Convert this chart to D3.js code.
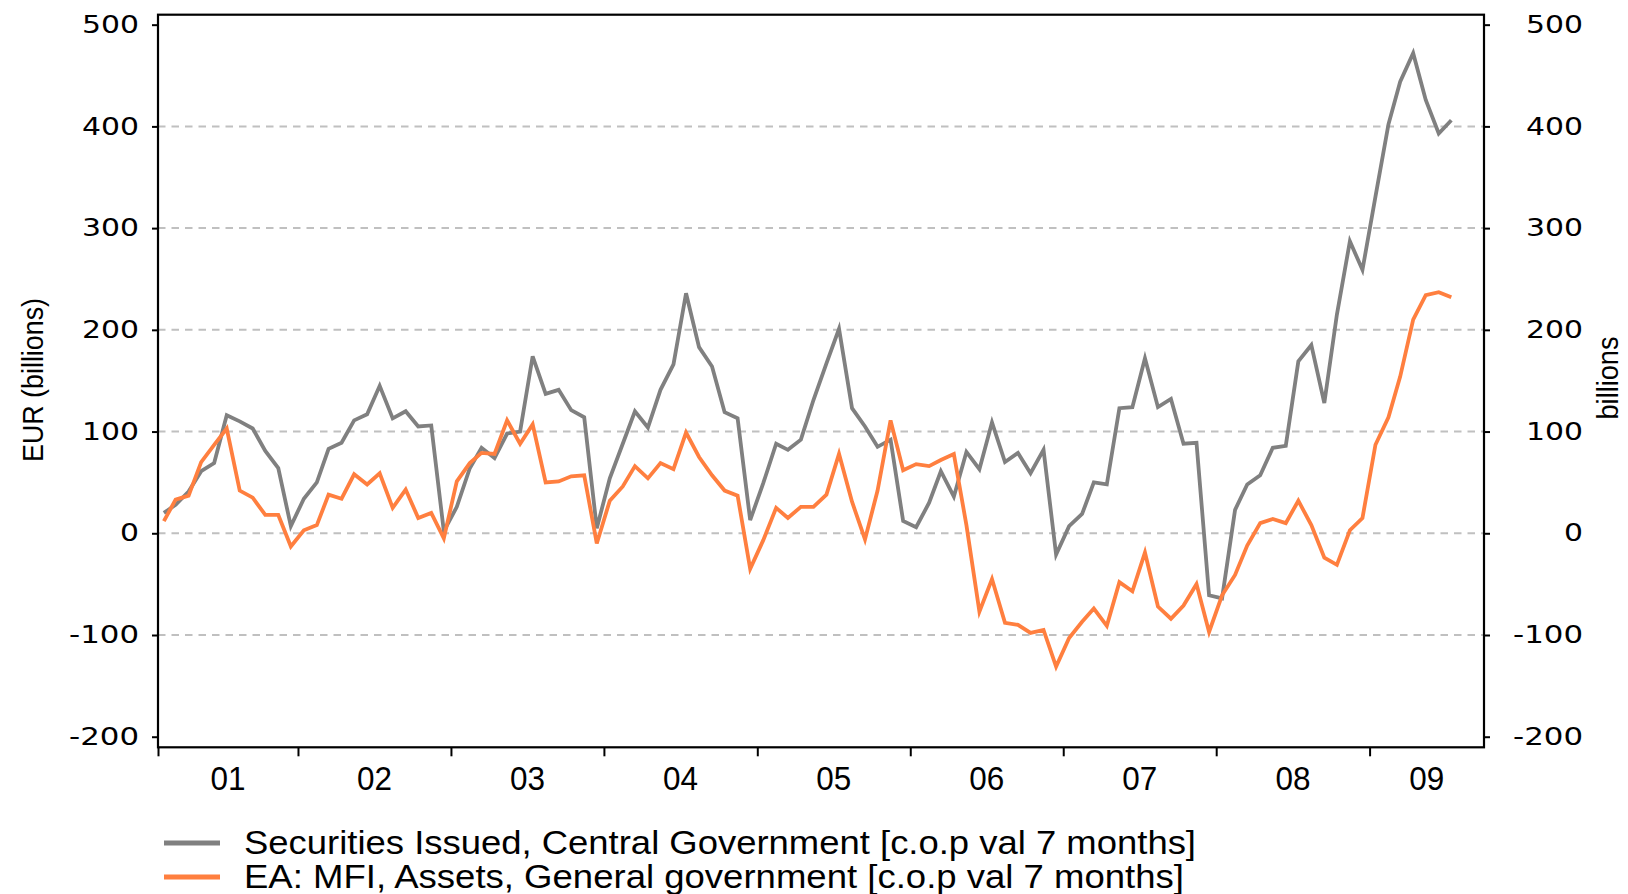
<!DOCTYPE html>
<html>
<head>
<meta charset="utf-8">
<script src="https://cdn.jsdelivr.net/npm/d3@7"></script>
<style>
  body { margin: 0; background: #fff; }
  svg { display: block; }
</style>
</head>
<body>
<script>
// monthly observations, Feb 2001 .. Jul 2009 (mid-month)
var startYear = 2001, startMonth = 1; // Feb
var securities = [20, 28, 41, 61, 69, 116, 110, 103, 81, 64, 7,
  34, 50, 83, 89, 111, 117, 145, 113, 120, 105, 106, 2,
  26, 64, 84, 74, 98, 100, 174, 137, 141, 121, 114, 5,
  54, 88, 120, 104, 141, 166, 236, 183, 164, 119, 113, 13,
  49, 88, 82, 92, 131, 167, 201, 123, 105, 85, 92, 12,
  6, 30, 61, 36, 80, 63, 109, 70, 79, 59, 82, -21,
  7, 19, 50, 48, 123, 124, 172, 124, 132, 88, 89, -61,
  -64, 23, 48, 57, 84, 86, 169, 185, 128, 215, 287, 259,
  331, 402, 444, 472, 426, 393, 406];
var mfiAssets = [12, 33, 37, 70, 87, 103, 42, 35, 18, 18, -13,
  3, 8, 38, 34, 58, 48, 59, 25, 43, 15, 20, -5,
  51, 69, 79, 78, 111, 88, 107, 50, 51, 56, 57, -10,
  32, 46, 66, 54, 69, 63, 99, 75, 57, 42, 37, -35,
  -7, 25, 15, 26, 26, 38, 78, 31, -6, 42, 111, 62,
  68, 66, 72, 78, 8, -77, -45, -88, -90, -98, -95, -131,
  -103, -87, -74, -91, -48, -57, -19, -72, -84, -71, -50, -97,
  -61, -41, -12, 10, 14, 10, 32, 8, -24, -31, 3, 15,
  87, 114, 154, 210, 234, 237, 232];
var years = [2001, 2002, 2003, 2004, 2005, 2006, 2007, 2008, 2009];
var yearLabels = ['01', '02', '03', '04', '05', '06', '07', '08', '09'];
var yTicks = [-200, -100, 0, 100, 200, 300, 400, 500];
var gridTicks = [-100, 0, 100, 200, 300, 400];
var seriesNames = ['Securities Issued, Central Government [c.o.p val 7 months]',
  'EA: MFI, Assets, General government [c.o.p val 7 months]'];
var colors = ['#808080', '#ff7f3f'];

var W = 1628, H = 894;
var plotL = 158, plotR = 1484, plotT = 14.7, plotB = 747.3;

var svg = d3.select('body').append('svg').attr('width', W).attr('height', H);

var x = d3.scaleTime()
  .domain([new Date(2001, 1, 1), new Date(2009, 9, 1)])
  .range([plotL, plotR]);
var y = d3.scaleLinear().domain([-210.4, 509.8]).range([plotB, plotT]);

function dateOf(i) { return new Date(startYear, startMonth + i, 15); }

// gridlines
svg.append('g').selectAll('line')
  .data(gridTicks)
  .enter().append('line')
  .attr('x1', plotL).attr('x2', plotR)
  .attr('y1', function(d) { return y(d); })
  .attr('y2', function(d) { return y(d); })
  .attr('stroke', '#c0c0c0')
  .attr('stroke-width', 2)
  .attr('stroke-dasharray', '7.5,6');

// lines
var line = d3.line()
  .x(function(d, i) { return x(dateOf(i)); })
  .y(function(d) { return y(d); });

[securities, mfiAssets].forEach(function(s, k) {
  svg.append('path')
    .attr('d', line(s))
    .attr('fill', 'none')
    .attr('stroke', colors[k])
    .attr('stroke-width', 3.8)
    .attr('stroke-linejoin', 'miter');
});

// frame
svg.append('rect')
  .attr('x', plotL).attr('y', plotT)
  .attr('width', plotR - plotL).attr('height', plotB - plotT)
  .attr('fill', 'none').attr('stroke', '#000').attr('stroke-width', 2.2);

function styleNum(g, anchor) {
  g.select('.domain').remove();
  g.selectAll('.tick line').attr('stroke', '#000').attr('stroke-width', 2);
  g.selectAll('.tick text')
    .attr('font-family', '"DejaVu Sans", Verdana, sans-serif')
    .attr('font-size', 24)
    .attr('fill', '#000')
    .attr('text-anchor', anchor)
    .attr('textLength', function(d) {
      var s = String(d);
      return s.replace('-', '').length * 19 + (d < 0 ? 13 : 0);
    })
    .attr('lengthAdjust', 'spacingAndGlyphs');
}

var plain = function(d) { return String(d); };

svg.append('g')
  .attr('transform', 'translate(' + plotL + ',0)')
  .call(d3.axisLeft(y).tickValues(yTicks).tickFormat(plain).tickSize(6).tickPadding(13))
  .call(function(g) { styleNum(g, 'end'); });

svg.append('g')
  .attr('transform', 'translate(' + plotR + ',0)')
  .call(d3.axisRight(y).tickValues(yTicks).tickFormat(plain).tickSize(6))
  .call(function(g) { styleNum(g, 'end'); })
  .selectAll('.tick text').attr('x', 99);

// x axis: year boundaries as ticks, labels centred on the visible part of each year
var xAxis = svg.append('g')
  .attr('transform', 'translate(0,' + plotB + ')')
  .call(d3.axisBottom(x)
    .tickValues([x.domain()[0]].concat(years.slice(1).map(function(yr) { return new Date(yr, 0, 1); })))
    .tickSize(9).tickFormat(''));
xAxis.select('.domain').remove();
xAxis.selectAll('.tick line').attr('stroke', '#000').attr('stroke-width', 2);

var d0 = x.domain()[0], d1 = x.domain()[1];
svg.append('g').selectAll('text')
  .data(years)
  .enter().append('text')
  .attr('x', function(yr) {
    var a = Math.max(+new Date(yr, 0, 1), +d0), b = Math.min(+new Date(yr + 1, 0, 1), +d1);
    return (x(new Date(a)) + x(new Date(b))) / 2;
  })
  .attr('y', plotB + 43)
  .attr('text-anchor', 'middle')
  .attr('font-family', '"Liberation Sans", Arial, sans-serif')
  .attr('font-size', 33)
  .attr('textLength', 35).attr('lengthAdjust', 'spacingAndGlyphs')
  .text(function(yr, i) { return yearLabels[i]; });

// axis titles
svg.append('text')
  .attr('transform', 'translate(43,380) rotate(-90)')
  .attr('text-anchor', 'middle')
  .attr('font-family', '"Liberation Sans", Arial, sans-serif')
  .attr('font-size', 29)
  .attr('textLength', 164).attr('lengthAdjust', 'spacingAndGlyphs')
  .text('EUR (billions)');

svg.append('text')
  .attr('transform', 'translate(1618,378) rotate(-90)')
  .attr('text-anchor', 'middle')
  .attr('font-family', '"Liberation Sans", Arial, sans-serif')
  .attr('font-size', 29)
  .attr('textLength', 83).attr('lengthAdjust', 'spacingAndGlyphs')
  .text('billions');

// legend
var legendLen = [952, 940];
var leg = svg.append('g').selectAll('g')
  .data(seriesNames)
  .enter().append('g')
  .attr('transform', function(d, i) { return 'translate(0,' + (843 + i * 34) + ')'; });
leg.append('line')
  .attr('x1', 164).attr('x2', 220)
  .attr('stroke', function(d, i) { return colors[i]; })
  .attr('stroke-width', 5);
leg.append('text')
  .attr('x', 244).attr('y', 11)
  .attr('font-family', '"Liberation Sans", Arial, sans-serif')
  .attr('font-size', 33)
  .attr('textLength', function(d, i) { return legendLen[i]; })
  .attr('lengthAdjust', 'spacingAndGlyphs')
  .text(function(d) { return d; });
</script>
</body>
</html>
